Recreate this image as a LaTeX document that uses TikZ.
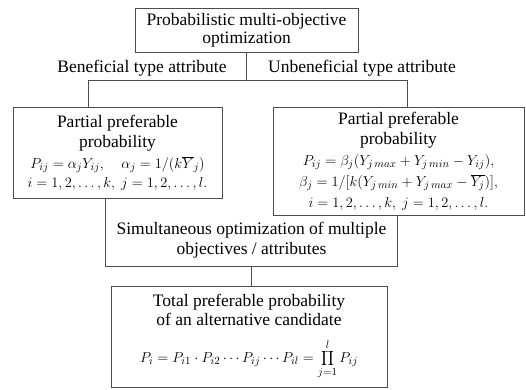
\documentclass[tikz,border=0pt]{standalone}
\usepackage{fontspec}
\setmainfont{Liberation Serif}
\usetikzlibrary{positioning}
\newcommand{\fmsize}{\fontsize{15}{21}\selectfont}
\tikzset{
  probbox/.style={draw=black!70, line width=0.7pt, align=center, inner sep=2pt},
  plainlbl/.style={align=center, inner sep=1pt},
  connline/.style={draw=black!70, line width=0.7pt},
}

\begin{document}
\begin{tikzpicture}[x=1pt, y=-1pt, font=\fontsize{17.5}{20}\selectfont]
  \useasboundingbox (0,0) rectangle (526,389);

  % Goal
  \node[probbox, minimum width=223pt, minimum height=44pt] (goal) at (246.5,30) {Probabilistic multi-objective\\[-2pt]optimization};

  % Attribute types
  \node[plainlbl] (benlbl) at (142,68) {Beneficial type attribute};
  \node[plainlbl] (unblbl) at (362,68) {Unbeneficial type attribute};

  % Partial probabilities
  \node[probbox, minimum width=209pt, minimum height=91pt] (benbox) at (117.5,152.5) {Partial preferable\\probability\\[1pt]
    \fmsize $P_{ij}=\alpha_j Y_{ij},\quad \alpha_j=1/(k\overline{Y}_j)$\\[-1pt]
    \fmsize $i=1, 2, \ldots, k,\ j=1, 2, \ldots, l.$};
  \node[probbox, minimum width=251pt, minimum height=108pt] (unbbox) at (398.5,161) {Partial preferable\\probability\\[1pt]
    \fmsize $P_{ij}=\beta_j(Y_{j\,max}+Y_{j\,min}-Y_{ij}),$\\[1pt]
    \fmsize $\beta_j=1/[k(Y_{j\,min}+Y_{j\,max}-\overline{Y_j})],$\\[1pt]
    \fmsize $i=1, 2, \ldots, k,\ j=1, 2, \ldots, l.$};

  % Simultaneous optimization
  \node[plainlbl, minimum width=291pt, minimum height=51pt] (simnode) at (251.5,240.5) {Simultaneous optimization of multiple\\objectives / attributes};

  % Total probability
  \node[probbox, minimum width=276pt, minimum height=101pt] (totbox) at (249,336.5) {Total preferable probability\\[-1pt]of an alternative candidate\\[13pt]
    \fmsize $\displaystyle P_i=P_{i1}\cdot P_{i2}\cdots P_{ij}\cdots P_{il}=\prod_{j=1}^{l}P_{ij}$};

  % Connectors
  \coordinate (split) at ([yshift=-28pt]goal.south);
  \coordinate (benend) at ([xshift=-29.5pt]benbox.north);
  \coordinate (unbend) at ([xshift=8.5pt]unbbox.north);
  \draw[connline] (goal.south) -- (split);
  \draw[connline] (benend) |- (split) -| (unbend);
  \draw[connline] (benbox.south -| simnode.west) |- (simnode.south) -| (unbbox.south -| simnode.east);
  \draw[connline] (simnode.south) -- (simnode.south |- totbox.north);
\end{tikzpicture}
\end{document}
